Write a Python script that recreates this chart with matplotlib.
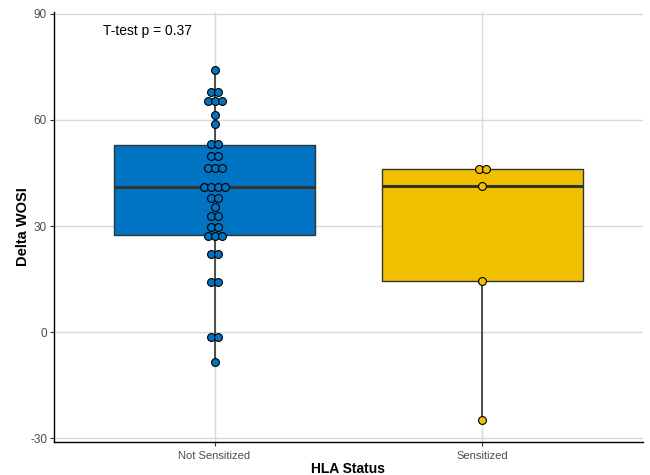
import numpy as np
import matplotlib
matplotlib.use("Agg")
import matplotlib.pyplot as plt

plt.rcParams['font.family'] = ['Liberation Sans', 'DejaVu Sans']
plt.rcParams['axes.unicode_minus'] = False

groups = ["Not Sensitized", "Sensitized"]
not_sensitized = [-8.5, -1.3, -1.2, 14.2, 14.3, 22.0, 22.2, 26.6, 27.0, 27.8,
                  29.6, 29.8, 32.6, 32.8, 35.3, 37.9, 38.1, 40.8, 41.0, 41.0,
                  41.2, 46.4, 46.5, 46.6, 49.8, 50.0, 52.8, 53.4, 58.9, 61.4,
                  65.2, 65.3, 65.4, 67.9, 68.1, 74.2]
sensitized = [-24.9, 14.6, 41.3, 46.1, 46.2]
colors = ["#0073C2", "#EFC000"]
yticks = [-30, 0, 30, 60, 90]
p_label = "T-test p = 0.37"


def dot_bins(values, binwidth):
    # simple dot-density binning, like ggplot's geom_dotplot
    vals = sorted(values)
    bins = []
    i = 0
    while i < len(vals):
        start = vals[i]
        members = [v for v in vals[i:] if v <= start + binwidth]
        bins.append(((members[0] + members[-1]) / 2, len(members)))
        i += len(members)
    return bins


fig = plt.figure(figsize=(6.5, 4.75), dpi=100)
ax = fig.add_axes([0.083, 0.0705, 0.906, 0.904])

data = [not_sensitized, sensitized]
bp = ax.boxplot(data, positions=[1, 2], widths=0.75, patch_artist=True,
                showfliers=False, whis=1.5, zorder=2,
                boxprops=dict(edgecolor="#333333", linewidth=1.0),
                whiskerprops=dict(color="#333333", linewidth=1.2),
                capprops=dict(linewidth=0),
                medianprops=dict(color="#333333", linewidth=2.2))
for patch, c in zip(bp["boxes"], colors):
    patch.set_facecolor(c)

dot_step = 0.026
for pos, vals, c in zip([1, 2], data, colors):
    xs, ys = [], []
    for center, n in dot_bins(vals, 2.0):
        for k in range(n):
            xs.append(pos + (k - (n - 1) / 2) * dot_step)
            ys.append(center)
    ax.scatter(xs, ys, s=32, facecolor=c, edgecolor="black",
               linewidth=0.8, zorder=4)

ax.text(0.75, 85, p_label, ha="center", va="center", fontsize=10,
        color="black")

ax.set_xlim(0.4, 2.6)
ax.set_ylim(-30.9, 90.45)
ax.set_xticks([1, 2])
ax.set_xticklabels(groups)
ax.set_yticks(yticks)
ax.grid(True, color="#D9D9D9", linewidth=1.0, zorder=0)
ax.set_axisbelow(True)
for s in ["top", "right"]:
    ax.spines[s].set_visible(False)
for s in ["left", "bottom"]:
    ax.spines[s].set_linewidth(1.0)
    ax.spines[s].set_color("black")
ax.tick_params(labelsize=8, colors="#333333", length=3, width=0.8)
ax.tick_params(axis="both", labelcolor="#4D4D4D")
ax.tick_params(axis="y", labelsize=8.5, pad=2)
ax.set_xlabel("HLA Status", fontsize=10, fontweight="bold")
ax.set_ylabel("Delta WOSI", fontsize=10.5, fontweight="bold")
ax.xaxis.set_label_coords(0.5, -0.048)
ax.yaxis.set_label_coords(-0.04, 0.5)

fig.savefig("out.png", dpi=100)
